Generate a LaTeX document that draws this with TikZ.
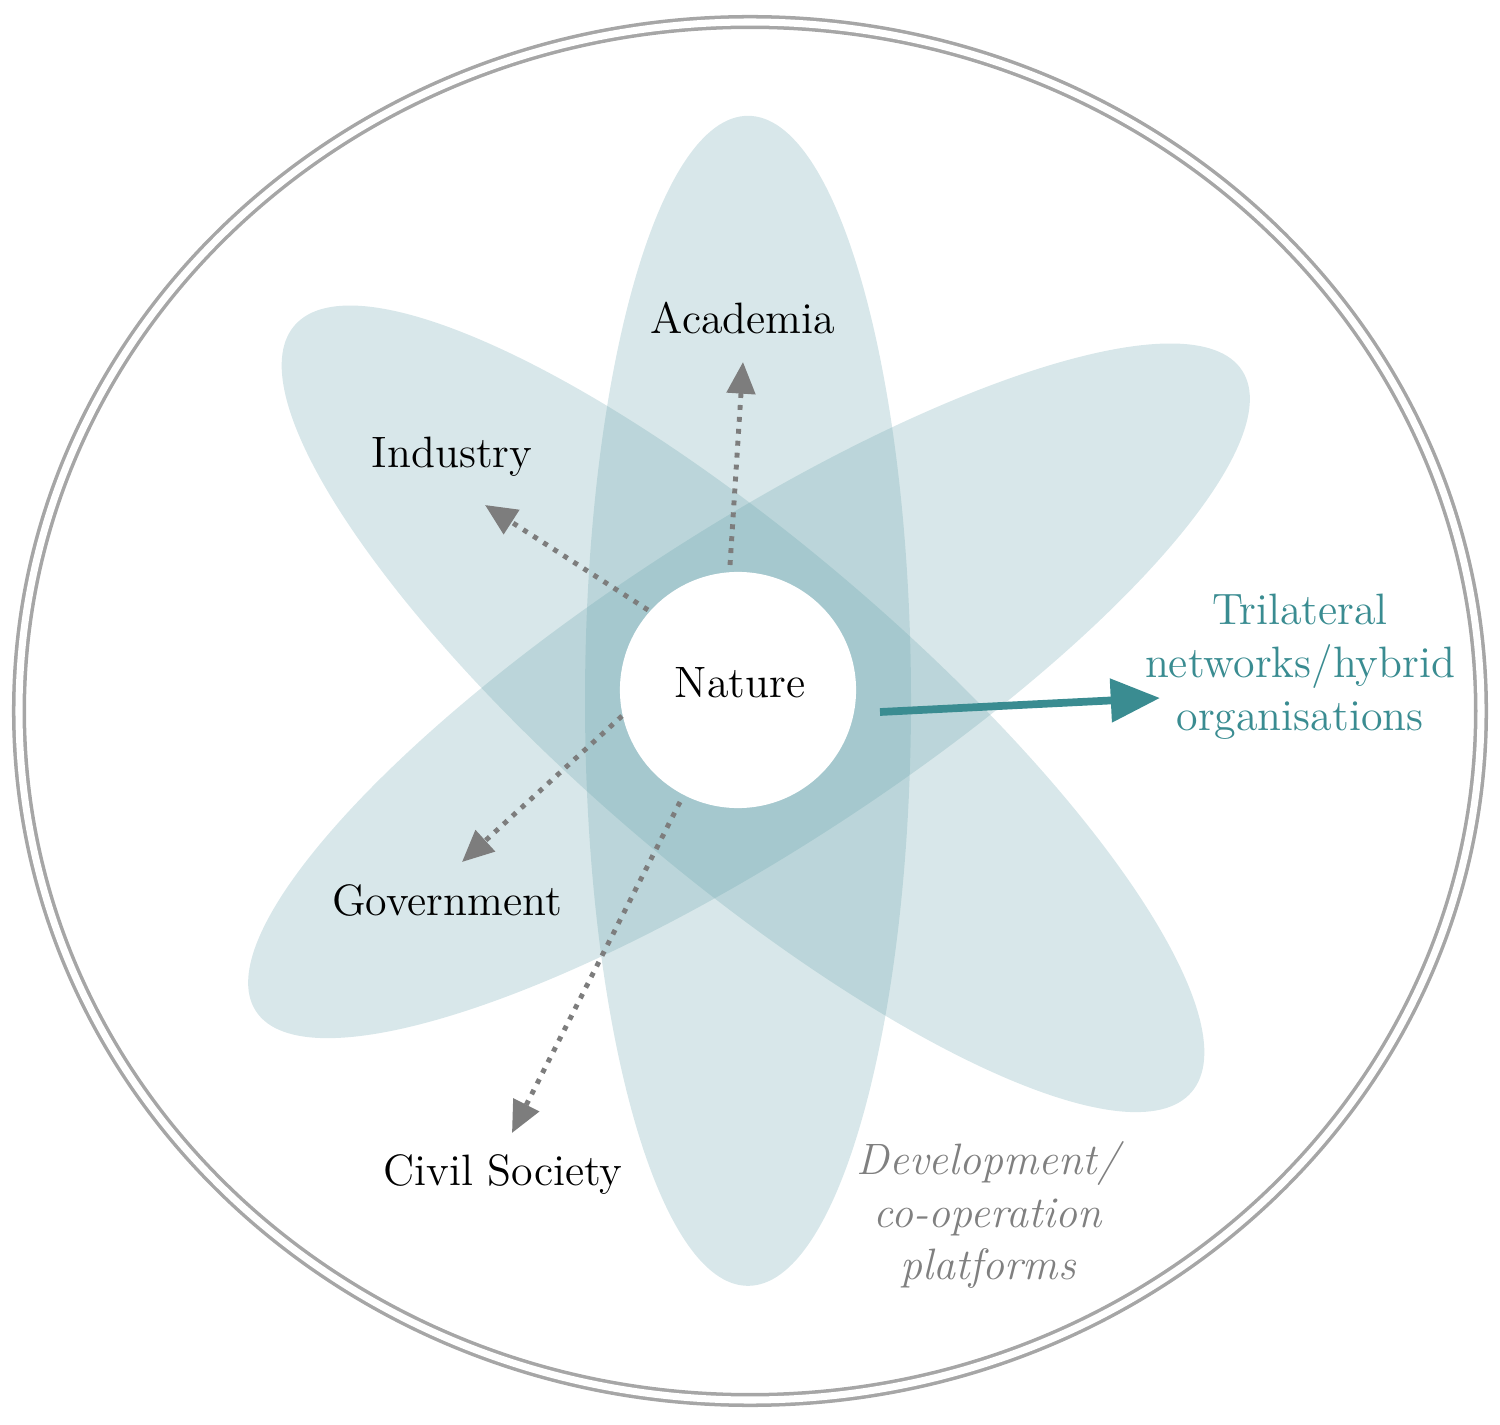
\documentclass[tikz,border=0pt]{standalone}
\usetikzlibrary{arrows.meta}
\definecolor{petal}{RGB}{100,160,170}
\definecolor{teal}{RGB}{58,140,145}
\definecolor{dotgrey}{RGB}{125,125,125}
\tikzset{
  petalst/.style={fill=petal,fill opacity=0.25,draw=none},
  dotarrow/.style={dotgrey,line width=1.4pt,dotted,-{Triangle[length=9pt,width=8pt]}},
  lab/.style={font=\fontsize{12.5}{15}\selectfont,text=black},
}
\begin{document}
\begin{tikzpicture}[x=0.01cm,y=-0.01cm]
\useasboundingbox (0,0) rectangle (1500,1425);
\draw[gray!70,double=white,double distance=2pt,line width=1pt] (750,711) ellipse [x radius=731,y radius=689];
\begin{scope}[x=0.01cm,y=0.01cm,shift={(0,-14.25cm)}]
\fill[petalst] (748,725) ellipse [x radius=163,y radius=585];
\fill[petalst,rotate around={-40.5:(743,717)}] (743,717) ellipse [x radius=590,y radius=165];
\fill[petalst,rotate around={33:(749,735)}] (749,735) ellipse [x radius=588,y radius=160];
\end{scope}
\node[circle,fill=white,minimum size=2.36cm,inner sep=0pt] (nat) at (738,690) {};
\node[lab] at (740,683) {Nature};
\coordinate (a1) at (730,565); \coordinate (a2) at (743,362);
\coordinate (i1) at (648,610); \coordinate (i2) at (485,505);
\coordinate (g1) at (622,716); \coordinate (g2) at (462,862);
\coordinate (c1) at (680,802); \coordinate (c2) at (512,1133);
\coordinate (t1) at (880,712); \coordinate (t2) at (1160,698);
\draw[dotarrow] (a1) -- (a2);
\draw[dotarrow] (i1) -- (i2);
\draw[dotarrow] (g1) -- (g2);
\draw[dotarrow] (c1) -- (c2);
\draw[teal,line width=2.2pt,-{Triangle[length=14pt,width=12pt]}] (t1) -- (t2);
\node[lab] (ac) at (743,318) {Academia};
\node[lab] (in) at (452,457) {Industry};
\node[lab] (go) at (447,900) {Government};
\node[lab] (cs) at (503,1175) {Civil Society};
\node[lab,text=teal,align=center] (tr) at (1300,667) {Trilateral\\networks/hybrid\\organisations};
\node[lab,text=gray,align=center,font=\fontsize{12.5}{15}\selectfont\itshape] (dv) at (988,1215) {Development/\\co-operation\\platforms};
\end{tikzpicture}
\end{document}
